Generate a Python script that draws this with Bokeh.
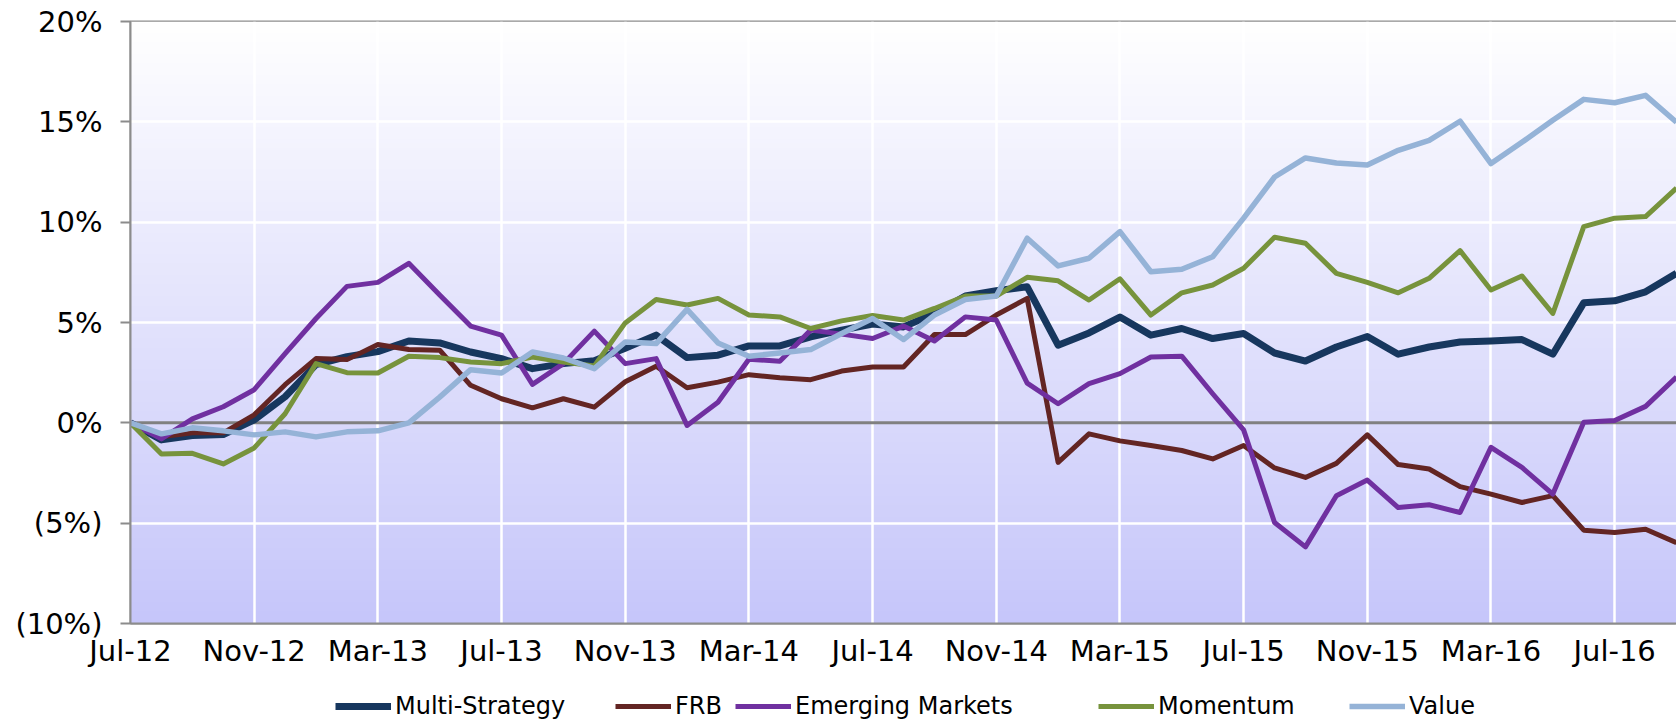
import numpy as np
import pandas as pd
from bokeh.plotting import figure
from bokeh.layouts import column
from bokeh.models import Range1d, FixedTicker, Span, Legend, LegendItem, Label
from bokeh.embed import file_html
from bokeh.resources import INLINE

# ---------------- data ----------------
months = pd.date_range("2012-07-01", periods=51, freq="MS")
month_labels = [d.strftime("%b-%y") for d in months]
tick_idx = list(range(0, 51, 4))
tick_labels = [month_labels[i] for i in tick_idx]

multi_strategy = [0.0, -0.85, -0.63, -0.58, 0.15, 1.3, 2.9, 3.3, 3.55, 4.08,
                  3.98, 3.53, 3.2, 2.7, 2.95, 3.1, 3.72, 4.37, 3.25, 3.37,
                  3.83, 3.83, 4.28, 4.62, 4.92, 4.78, 5.45, 6.32, 6.58, 6.78,
                  3.87, 4.48, 5.27, 4.37, 4.7, 4.2, 4.45, 3.48, 3.08, 3.78,
                  4.3, 3.42, 3.78, 4.03, 4.08, 4.15, 3.42, 5.98, 6.08, 6.53, 7.45]
frb = [0.0, -0.7, -0.5, -0.5, 0.4, 1.9, 3.2, 3.15, 3.9, 3.65,
       3.62, 1.87, 1.2, 0.75, 1.2, 0.78, 2.05, 2.82, 1.75, 2.03,
       2.4, 2.25, 2.15, 2.58, 2.78, 2.78, 4.4, 4.4, 5.37, 6.2,
       -1.97, -0.55, -0.9, -1.13, -1.38, -1.8, -1.13, -2.25, -2.72, -2.02,
       -0.6, -2.08, -2.3, -3.18, -3.55, -3.97, -3.63, -5.35, -5.47, -5.3, -5.97]
emerging_markets = [0.0, -0.8, 0.2, 0.8, 1.65, 3.45, 5.2, 6.8, 7.0, 7.95,
                    6.37, 4.82, 4.37, 1.92, 2.95, 4.57, 2.95, 3.2, -0.13, 1.03,
                    3.17, 3.07, 4.62, 4.42, 4.2, 4.82, 4.08, 5.28, 5.12, 1.98,
                    0.95, 1.95, 2.45, 3.28, 3.32, 1.45, -0.35, -4.97, -6.18, -3.63,
                    -2.85, -4.22, -4.08, -4.47, -1.22, -2.22, -3.55, 0.03, 0.12, 0.82, 2.28]
momentum = [0.0, -1.55, -1.52, -2.05, -1.25, 0.45, 2.95, 2.5, 2.48, 3.32,
            3.25, 3.03, 2.95, 3.28, 3.03, 2.83, 4.98, 6.15, 5.87, 6.2,
            5.37, 5.28, 4.7, 5.08, 5.35, 5.12, 5.7, 6.32, 6.32, 7.25,
            7.08, 6.12, 7.18, 5.37, 6.48, 6.87, 7.7, 9.25, 8.95, 7.45,
            7.0, 6.48, 7.2, 8.58, 6.62, 7.32, 5.45, 9.78, 10.2, 10.28, 11.7]
value_style = [0.0, -0.55, -0.25, -0.4, -0.6, -0.45, -0.7, -0.45, -0.4, 0.0,
               1.28, 2.65, 2.48, 3.53, 3.23, 2.7, 4.03, 3.95, 5.65, 3.98,
               3.32, 3.48, 3.65, 4.45, 5.2, 4.15, 5.37, 6.15, 6.32, 9.2,
               7.82, 8.2, 9.53, 7.53, 7.65, 8.28, 10.2, 12.25, 13.2, 12.95,
               12.85, 13.58, 14.08, 15.03, 12.92, 13.98, 15.08, 16.12, 15.95, 16.32, 14.98]

series_names = ["Multi-Strategy", "FRB", "Emerging Markets", "Momentum", "Value"]
series_values = [multi_strategy, frb, emerging_markets, momentum, value_style]

y_ticks = [-10, -5, 0, 5, 10, 15, 20]
y_tick_labels = ["(10%)", "(5%)", "0%", "5%", "10%", "15%", "20%"]
title_text = "31 July 2012 \u2013 30 September 2016"

# ---------------- styles ----------------
colors = ["#17375E", "#632523", "#7030A0", "#77933C", "#95B3D7"]
widths = [7, 5, 5, 5, 5.5]
legend_x = [205, 485, 605, 968, 1219]   # offsets from the plot-area left edge
FONT = "DejaVu Sans"
GREY = "#8C8C8C"

x = list(range(len(months)))
W, H1, H2 = 1676, 670, 52

p = figure(width=W, height=H1,
           x_range=Range1d(0, len(months) - 1), y_range=Range1d(y_ticks[0], y_ticks[-1]),
           output_backend="svg", toolbar_location=None,
           min_border_left=130, min_border_right=0, min_border_top=21, min_border_bottom=47)
p.background_fill_color = "white"
p.border_fill_color = "white"
p.outline_line_color = GREY
p.outline_line_width = 2

# gradient background for the plot area
n = 256
t = np.linspace(0.0, 1.0, n)
bottom_c = np.array([198.0, 198.0, 250.0])
top_c = np.array([255.0, 255.0, 255.0])
cols = bottom_c[None, :] + (top_c - bottom_c)[None, :] * t[:, None]
img = np.empty((n, 2), dtype=np.uint32)
view = img.view(dtype=np.uint8).reshape((n, 2, 4))
for k in range(2):
    view[:, k, 0] = cols[:, 0]
    view[:, k, 1] = cols[:, 1]
    view[:, k, 2] = cols[:, 2]
    view[:, k, 3] = 255
p.image_rgba(image=[img], x=0, y=y_ticks[0], dw=len(months) - 1,
             dh=y_ticks[-1] - y_ticks[0], level="image")

# grids
p.xgrid.ticker = FixedTicker(ticks=tick_idx[1:])
p.ygrid.ticker = FixedTicker(ticks=[v for v in y_ticks[1:-1] if v != 0])
for g in (p.xgrid, p.ygrid):
    g.grid_line_color = "white"
    g.grid_line_width = 2.5

p.add_layout(Span(location=0, dimension="width", line_color="#808080",
                  line_width=3, level="underlay"))

# axes
p.xaxis.ticker = FixedTicker(ticks=tick_idx)
p.xaxis.major_label_overrides = {i: lab for i, lab in zip(tick_idx, tick_labels)}
p.xaxis.major_tick_out = 0
p.xaxis.major_tick_in = 0
p.xaxis.minor_tick_out = 0
p.xaxis.minor_tick_in = 0
p.xaxis.axis_line_color = GREY
p.xaxis.axis_line_width = 2
p.xaxis.major_label_standoff = 10

p.yaxis.ticker = FixedTicker(ticks=y_ticks)
p.yaxis.major_label_overrides = {v: lab for v, lab in zip(y_ticks, y_tick_labels)}
p.yaxis.major_tick_out = 10
p.yaxis.major_tick_in = 0
p.yaxis.minor_tick_out = 0
p.yaxis.minor_tick_in = 0
p.yaxis.axis_line_color = GREY
p.yaxis.axis_line_width = 2
p.yaxis.major_tick_line_color = GREY
p.yaxis.major_tick_line_width = 2
p.yaxis.major_label_standoff = 18

for ax in (p.xaxis, p.yaxis):
    ax.major_label_text_font = FONT
    ax.major_label_text_font_size = "29px"
    ax.major_label_text_color = "black"

# series
for name, ys, c, w in zip(series_names, series_values, colors, widths):
    p.line(x, ys, line_color=c, line_width=w, line_join="round")

# title, cut off at the top as in the original
p.add_layout(Label(x=757, y=623 - 5, x_units="screen", y_units="screen",
                   text=title_text, text_align="center", text_baseline="alphabetic",
                   text_font=FONT, text_font_size="24px", text_color="black"))

# ---------------- legend strip ----------------
# the same series are drawn again far outside this strip's visible range,
# only so that each legend entry has a line swatch
lf = figure(width=W, height=H2, x_range=Range1d(0, len(months) - 1),
            y_range=Range1d(1000, 1001),
            output_backend="svg", toolbar_location=None,
            min_border_left=0, min_border_right=0, min_border_top=0, min_border_bottom=0)
lf.axis.visible = False
lf.grid.visible = False
lf.outline_line_color = None
lf.background_fill_color = "white"
lf.border_fill_color = "white"

for name, ys, c, w, lx in zip(series_names, series_values, colors, widths, legend_x):
    r = lf.line(x, ys, line_color=c, line_width=w)
    lg = Legend(items=[LegendItem(label=name, renderers=[r])], location=(lx, 2),
                orientation="horizontal", padding=0, margin=0, spacing=0,
                glyph_width=56, glyph_height=20, label_standoff=4,
                label_text_font=FONT, label_text_font_size="24px",
                label_text_color="black",
                background_fill_alpha=0, border_line_alpha=0)
    lf.add_layout(lg)

layout = column(p, lf, spacing=0)
open("out.html", "w").write(file_html(layout, INLINE))
